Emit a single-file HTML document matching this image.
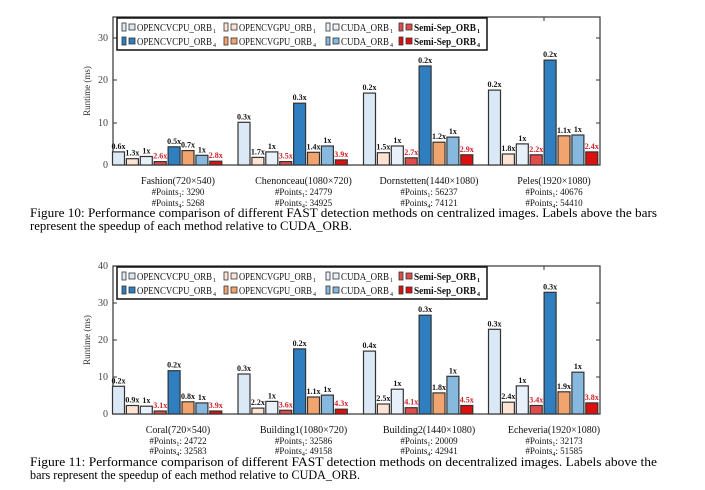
<!DOCTYPE html>
<html><head><meta charset="utf-8"><style>
body{margin:0;background:#fff}
svg{display:block;font-family:"Liberation Serif",serif}
.a{fill:#dbe8f5}.b{fill:#fde3d4}.c{fill:#e8f0f9}.d{fill:#e04c4c}.e{fill:#2e7ec0}.f{fill:#f2a46f}.g{fill:#87b8de}.h{fill:#dd1010}
rect.bar{stroke:#333;stroke-width:1.2}
.l{font-size:8px;font-weight:bold;text-anchor:middle;fill:#111}
.r{fill:#d0202a}
.t{font-size:10px;fill:#444;text-anchor:end}
.gl{font-size:10px;text-anchor:middle;fill:#111}
.gp{font-size:9px;text-anchor:middle;fill:#111}
.lg{font-size:10px;fill:#111}
.sb{font-size:6px;fill:#111}
.cap{font-size:13px;fill:#000}
</style></head><body>
<svg width="705" height="490" viewBox="0 0 705 490">
<defs>
<g id="leg">
<rect x="117" y="0" width="370" height="32" fill="#fff" stroke="#111" stroke-width="1.5"/>
<g stroke="#333" stroke-width="0.8">
<rect class="a" x="122" y="5" width="4" height="8"/><rect class="a" x="129" y="6" width="6" height="6"/>
<rect class="b" x="224" y="5" width="4" height="8"/><rect class="b" x="231" y="6" width="6" height="6"/>
<rect class="c" x="326" y="5" width="4" height="8"/><rect class="c" x="333" y="6" width="6" height="6"/>
<rect class="d" x="399" y="5" width="4" height="8"/><rect class="d" x="406" y="6" width="6" height="6"/>
<rect class="e" x="122" y="19" width="4" height="8"/><rect class="e" x="129" y="20" width="6" height="6"/>
<rect class="f" x="224" y="19" width="4" height="8"/><rect class="f" x="231" y="20" width="6" height="6"/>
<rect class="g" x="326" y="19" width="4" height="8"/><rect class="g" x="333" y="20" width="6" height="6"/>
<rect class="h" x="399" y="19" width="4" height="8"/><rect class="h" x="406" y="20" width="6" height="6"/>
</g>
</g>
</defs>
<!-- TOP CHART -->
<rect x="113" y="17" width="487" height="148" fill="none" stroke="#333" stroke-width="1.2"/>
<g stroke="#333" stroke-width="1">
<line x1="113" y1="123" x2="117" y2="123"/><line x1="113" y1="80" x2="117" y2="80"/><line x1="113" y1="38" x2="117" y2="38"/>
<line x1="600" y1="123" x2="596" y2="123"/><line x1="600" y1="80" x2="596" y2="80"/><line x1="600" y1="38" x2="596" y2="38"/>
<line x1="168" y1="17" x2="168" y2="21"/><line x1="293.5" y1="17" x2="293.5" y2="21"/><line x1="419" y1="17" x2="419" y2="21"/><line x1="544" y1="17" x2="544" y2="21"/>
<line x1="168" y1="165" x2="168" y2="161"/><line x1="293.5" y1="165" x2="293.5" y2="161"/><line x1="419" y1="165" x2="419" y2="161"/><line x1="544" y1="165" x2="544" y2="161"/>
</g>
<text class="t" x="108" y="168">0</text><text class="t" x="108" y="126">10</text><text class="t" x="108" y="83">20</text><text class="t" x="108" y="41">30</text>
<text transform="translate(90,91) rotate(-90)" font-size="9" text-anchor="middle" fill="#333">Runtime (ms)</text>

<g transform="translate(168,0)">
<rect class="bar a" x="-55.5" y="151.9" width="12" height="13.1"/><rect class="bar b" x="-41.6" y="158.7" width="12" height="6.3"/><rect class="bar c" x="-27.7" y="156.5" width="12" height="8.5"/><rect class="bar d" x="-13.8" y="161.6" width="12" height="3.4"/><rect class="bar e" x="0.1" y="146.8" width="12" height="18.2"/><rect class="bar f" x="14" y="150.6" width="12" height="14.4"/><rect class="bar g" x="27.9" y="155.3" width="12" height="9.7"/><rect class="bar h" x="41.8" y="161.2" width="12" height="3.8"/>
<text class="l" x="-49.5" y="148.9">0.6x</text><text class="l" x="-35.6" y="155.7">1.3x</text><text class="l" x="-21.7" y="153.5">1x</text><text class="l r" x="-7.8" y="158.6">2.6x</text><text class="l" x="6.1" y="143.8">0.5x</text><text class="l" x="20" y="147.6">0.7x</text><text class="l" x="33.9" y="152.3">1x</text><text class="l r" x="47.8" y="158.2">2.8x</text>
<text class="gl" x="10" y="184">Fashion(720×540)</text><text class="gp" x="10" y="195">#Points<tspan font-size="6" dy="2">1</tspan><tspan dy="-2">: 3290</tspan></text><text class="gp" x="10" y="206">#Points<tspan font-size="6" dy="2">4</tspan><tspan dy="-2">: 5268</tspan></text>
</g>
<g transform="translate(293.5,0)">
<rect class="bar a" x="-55.5" y="122.3" width="12" height="42.7"/><rect class="bar b" x="-41.6" y="157.4" width="12" height="7.6"/><rect class="bar c" x="-27.7" y="151.9" width="12" height="13.1"/><rect class="bar d" x="-13.8" y="161.6" width="12" height="3.4"/><rect class="bar e" x="0.1" y="103.2" width="12" height="61.8"/><rect class="bar f" x="14" y="152.3" width="12" height="12.7"/><rect class="bar g" x="27.9" y="146" width="12" height="19"/><rect class="bar h" x="41.8" y="159.9" width="12" height="5.1"/>
<text class="l" x="-49.5" y="119.3">0.3x</text><text class="l" x="-35.6" y="154.4">1.7x</text><text class="l" x="-21.7" y="148.9">1x</text><text class="l r" x="-7.8" y="158.6">3.5x</text><text class="l" x="6.1" y="100.2">0.3x</text><text class="l" x="20" y="149.3">1.4x</text><text class="l" x="33.9" y="143">1x</text><text class="l r" x="47.8" y="156.9">3.9x</text>
<text class="gl" x="10" y="184">Chenonceau(1080×720)</text><text class="gp" x="10" y="195">#Points<tspan font-size="6" dy="2">1</tspan><tspan dy="-2">: 24779</tspan></text><text class="gp" x="10" y="206">#Points<tspan font-size="6" dy="2">4</tspan><tspan dy="-2">: 34925</tspan></text>
</g>
<g transform="translate(419,0)">
<rect class="bar a" x="-55.5" y="93.1" width="12" height="71.9"/><rect class="bar b" x="-41.6" y="152.7" width="12" height="12.3"/><rect class="bar c" x="-27.7" y="146" width="12" height="19"/><rect class="bar d" x="-13.8" y="157.8" width="12" height="7.2"/><rect class="bar e" x="0.1" y="66" width="12" height="99"/><rect class="bar f" x="14" y="142.2" width="12" height="22.8"/><rect class="bar g" x="27.9" y="137.1" width="12" height="27.9"/><rect class="bar h" x="41.8" y="154.8" width="12" height="10.2"/>
<text class="l" x="-49.5" y="90.1">0.2x</text><text class="l" x="-35.6" y="149.7">1.5x</text><text class="l" x="-21.7" y="143">1x</text><text class="l r" x="-7.8" y="154.8">2.7x</text><text class="l" x="6.1" y="63">0.2x</text><text class="l" x="20" y="139.2">1.2x</text><text class="l" x="33.9" y="134.1">1x</text><text class="l r" x="47.8" y="151.8">2.9x</text>
<text class="gl" x="10" y="184">Dornstetten(1440×1080)</text><text class="gp" x="10" y="195">#Points<tspan font-size="6" dy="2">1</tspan><tspan dy="-2">: 56237</tspan></text><text class="gp" x="10" y="206">#Points<tspan font-size="6" dy="2">4</tspan><tspan dy="-2">: 74121</tspan></text>
</g>
<g transform="translate(544,0)">
<rect class="bar a" x="-55.5" y="90.1" width="12" height="74.9"/><rect class="bar b" x="-41.6" y="154" width="12" height="11"/><rect class="bar c" x="-27.7" y="143.9" width="12" height="21.1"/><rect class="bar d" x="-13.8" y="154.8" width="12" height="10.2"/><rect class="bar e" x="0.1" y="60.1" width="12" height="104.9"/><rect class="bar f" x="14" y="135.8" width="12" height="29.2"/><rect class="bar g" x="27.9" y="135" width="12" height="30"/><rect class="bar h" x="41.8" y="151.9" width="12" height="13.1"/>
<text class="l" x="-49.5" y="87.1">0.2x</text><text class="l" x="-35.6" y="151">1.8x</text><text class="l" x="-21.7" y="140.9">1x</text><text class="l r" x="-7.8" y="151.8">2.2x</text><text class="l" x="6.1" y="57.1">0.2x</text><text class="l" x="20" y="132.8">1.1x</text><text class="l" x="33.9" y="132">1x</text><text class="l r" x="47.8" y="148.9">2.4x</text>
<text class="gl" x="10" y="184">Peles(1920×1080)</text><text class="gp" x="10" y="195">#Points<tspan font-size="6" dy="2">1</tspan><tspan dy="-2">: 40676</tspan></text><text class="gp" x="10" y="206">#Points<tspan font-size="6" dy="2">4</tspan><tspan dy="-2">: 54410</tspan></text>
</g>

<!-- legend top -->
<g transform="translate(0,18)">
<use href="#leg"/>
<text class="lg" x="137" y="13" textLength="75" lengthAdjust="spacingAndGlyphs">OPENCVCPU_ORB</text><text class="sb" x="213" y="15">1</text>
<text class="lg" x="239" y="13" textLength="73" lengthAdjust="spacingAndGlyphs">OPENCVGPU_ORB</text><text class="sb" x="313" y="15">1</text>
<text class="lg" x="341" y="13" textLength="48" lengthAdjust="spacingAndGlyphs">CUDA_ORB</text><text class="sb" x="390" y="15">1</text>
<text class="lg" x="414" y="13" font-weight="bold" textLength="62" lengthAdjust="spacingAndGlyphs">Semi-Sep_ORB</text><text class="sb" x="477" y="15" font-weight="bold">1</text>
<text class="lg" x="137" y="27" textLength="75" lengthAdjust="spacingAndGlyphs">OPENCVCPU_ORB</text><text class="sb" x="213" y="29">4</text>
<text class="lg" x="239" y="27" textLength="73" lengthAdjust="spacingAndGlyphs">OPENCVGPU_ORB</text><text class="sb" x="313" y="29">4</text>
<text class="lg" x="341" y="27" textLength="48" lengthAdjust="spacingAndGlyphs">CUDA_ORB</text><text class="sb" x="390" y="29">4</text>
<text class="lg" x="414" y="27" font-weight="bold" textLength="62" lengthAdjust="spacingAndGlyphs">Semi-Sep_ORB</text><text class="sb" x="477" y="29" font-weight="bold">4</text>
</g>

<text class="cap" x="30" y="217" textLength="627" lengthAdjust="spacingAndGlyphs">Figure 10: Performance comparison of different FAST detection methods on centralized images. Labels above the bars</text>
<text class="cap" x="30" y="230" textLength="322" lengthAdjust="spacingAndGlyphs">represent the speedup of each method relative to CUDA_ORB.</text>

<!-- BOTTOM CHART -->
<rect x="113" y="266" width="487" height="148" fill="none" stroke="#333" stroke-width="1.2"/>
<g stroke="#333" stroke-width="1">
<line x1="113" y1="377" x2="117" y2="377"/><line x1="113" y1="340" x2="117" y2="340"/><line x1="113" y1="303" x2="117" y2="303"/>
<line x1="600" y1="377" x2="596" y2="377"/><line x1="600" y1="340" x2="596" y2="340"/><line x1="600" y1="303" x2="596" y2="303"/>
<line x1="168" y1="266" x2="168" y2="270"/><line x1="293.5" y1="266" x2="293.5" y2="270"/><line x1="419" y1="266" x2="419" y2="270"/><line x1="544" y1="266" x2="544" y2="270"/>
<line x1="168" y1="414" x2="168" y2="410"/><line x1="293.5" y1="414" x2="293.5" y2="410"/><line x1="419" y1="414" x2="419" y2="410"/><line x1="544" y1="414" x2="544" y2="410"/>
</g>
<text class="t" x="108" y="417">0</text><text class="t" x="108" y="380">10</text><text class="t" x="108" y="343">20</text><text class="t" x="108" y="306">30</text><text class="t" x="108" y="269">40</text>
<text transform="translate(90,340) rotate(-90)" font-size="9" text-anchor="middle" fill="#333">Runtime (ms)</text>

<g transform="translate(168,0)">
<rect class="bar a" x="-55.5" y="386.3" width="12" height="27.7"/><rect class="bar b" x="-41.6" y="405.5" width="12" height="8.5"/><rect class="bar c" x="-27.7" y="406.2" width="12" height="7.8"/><rect class="bar d" x="-13.8" y="411" width="12" height="3"/><rect class="bar e" x="0.1" y="370.7" width="12" height="43.3"/><rect class="bar f" x="14" y="401.8" width="12" height="12.2"/><rect class="bar g" x="27.9" y="402.9" width="12" height="11.1"/><rect class="bar h" x="41.8" y="411" width="12" height="3"/>
<text class="l" x="-49.5" y="383.3">0.2x</text><text class="l" x="-35.6" y="402.5">0.9x</text><text class="l" x="-21.7" y="403.2">1x</text><text class="l r" x="-7.8" y="408">3.1x</text><text class="l" x="6.1" y="367.7">0.2x</text><text class="l" x="20" y="398.8">0.8x</text><text class="l" x="33.9" y="399.9">1x</text><text class="l r" x="47.8" y="408">3.9x</text>
<text class="gl" x="10" y="433">Coral(720×540)</text><text class="gp" x="10" y="444">#Points<tspan font-size="6" dy="2">1</tspan><tspan dy="-2">: 24722</tspan></text><text class="gp" x="10" y="454">#Points<tspan font-size="6" dy="2">4</tspan><tspan dy="-2">: 32583</tspan></text>
</g>
<g transform="translate(293.5,0)">
<rect class="bar a" x="-55.5" y="374" width="12" height="40"/><rect class="bar b" x="-41.6" y="408.1" width="12" height="5.9"/><rect class="bar c" x="-27.7" y="401.4" width="12" height="12.6"/><rect class="bar d" x="-13.8" y="410.3" width="12" height="3.7"/><rect class="bar e" x="0.1" y="348.9" width="12" height="65.1"/><rect class="bar f" x="14" y="397" width="12" height="17"/><rect class="bar g" x="27.9" y="395.1" width="12" height="18.9"/><rect class="bar h" x="41.8" y="409.2" width="12" height="4.8"/>
<text class="l" x="-49.5" y="371">0.3x</text><text class="l" x="-35.6" y="405.1">2.2x</text><text class="l" x="-21.7" y="398.4">1x</text><text class="l r" x="-7.8" y="407.3">3.6x</text><text class="l" x="6.1" y="345.9">0.2x</text><text class="l" x="20" y="394">1.1x</text><text class="l" x="33.9" y="392.1">1x</text><text class="l r" x="47.8" y="406.2">4.3x</text>
<text class="gl" x="10" y="433">Building1(1080×720)</text><text class="gp" x="10" y="444">#Points<tspan font-size="6" dy="2">1</tspan><tspan dy="-2">: 32586</tspan></text><text class="gp" x="10" y="454">#Points<tspan font-size="6" dy="2">4</tspan><tspan dy="-2">: 49158</tspan></text>
</g>
<g transform="translate(419,0)">
<rect class="bar a" x="-55.5" y="351.1" width="12" height="62.9"/><rect class="bar b" x="-41.6" y="404" width="12" height="10"/><rect class="bar c" x="-27.7" y="389.2" width="12" height="24.8"/><rect class="bar d" x="-13.8" y="407.7" width="12" height="6.3"/><rect class="bar e" x="0.1" y="315.2" width="12" height="98.8"/><rect class="bar f" x="14" y="392.9" width="12" height="21.1"/><rect class="bar g" x="27.9" y="376.3" width="12" height="37.7"/><rect class="bar h" x="41.8" y="405.5" width="12" height="8.5"/>
<text class="l" x="-49.5" y="348.1">0.4x</text><text class="l" x="-35.6" y="401">2.5x</text><text class="l" x="-21.7" y="386.2">1x</text><text class="l r" x="-7.8" y="404.7">4.1x</text><text class="l" x="6.1" y="312.2">0.3x</text><text class="l" x="20" y="389.9">1.8x</text><text class="l" x="33.9" y="373.3">1x</text><text class="l r" x="47.8" y="402.5">4.5x</text>
<text class="gl" x="10" y="433">Building2(1440×1080)</text><text class="gp" x="10" y="444">#Points<tspan font-size="6" dy="2">1</tspan><tspan dy="-2">: 20009</tspan></text><text class="gp" x="10" y="454">#Points<tspan font-size="6" dy="2">4</tspan><tspan dy="-2">: 42941</tspan></text>
</g>
<g transform="translate(544,0)">
<rect class="bar a" x="-55.5" y="329.3" width="12" height="84.7"/><rect class="bar b" x="-41.6" y="402.2" width="12" height="11.8"/><rect class="bar c" x="-27.7" y="385.9" width="12" height="28.1"/><rect class="bar d" x="-13.8" y="405.5" width="12" height="8.5"/><rect class="bar e" x="0.1" y="292.3" width="12" height="121.7"/><rect class="bar f" x="14" y="391.8" width="12" height="22.2"/><rect class="bar g" x="27.9" y="372.2" width="12" height="41.8"/><rect class="bar h" x="41.8" y="402.9" width="12" height="11.1"/>
<text class="l" x="-49.5" y="326.3">0.3x</text><text class="l" x="-35.6" y="399.2">2.4x</text><text class="l" x="-21.7" y="382.9">1x</text><text class="l r" x="-7.8" y="402.5">3.4x</text><text class="l" x="6.1" y="289.3">0.3x</text><text class="l" x="20" y="388.8">1.9x</text><text class="l" x="33.9" y="369.2">1x</text><text class="l r" x="47.8" y="399.9">3.8x</text>
<text class="gl" x="10" y="433">Echeveria(1920×1080)</text><text class="gp" x="10" y="444">#Points<tspan font-size="6" dy="2">1</tspan><tspan dy="-2">: 32173</tspan></text><text class="gp" x="10" y="454">#Points<tspan font-size="6" dy="2">4</tspan><tspan dy="-2">: 51585</tspan></text>
</g>

<!-- legend bottom -->
<g transform="translate(0,267)">
<use href="#leg"/>
<text class="lg" x="137" y="13" textLength="75" lengthAdjust="spacingAndGlyphs">OPENCVCPU_ORB</text><text class="sb" x="213" y="15">1</text>
<text class="lg" x="239" y="13" textLength="73" lengthAdjust="spacingAndGlyphs">OPENCVGPU_ORB</text><text class="sb" x="313" y="15">1</text>
<text class="lg" x="341" y="13" textLength="48" lengthAdjust="spacingAndGlyphs">CUDA_ORB</text><text class="sb" x="390" y="15">1</text>
<text class="lg" x="414" y="13" font-weight="bold" textLength="62" lengthAdjust="spacingAndGlyphs">Semi-Sep_ORB</text><text class="sb" x="477" y="15" font-weight="bold">1</text>
<text class="lg" x="137" y="27" textLength="75" lengthAdjust="spacingAndGlyphs">OPENCVCPU_ORB</text><text class="sb" x="213" y="29">4</text>
<text class="lg" x="239" y="27" textLength="73" lengthAdjust="spacingAndGlyphs">OPENCVGPU_ORB</text><text class="sb" x="313" y="29">4</text>
<text class="lg" x="341" y="27" textLength="48" lengthAdjust="spacingAndGlyphs">CUDA_ORB</text><text class="sb" x="390" y="29">4</text>
<text class="lg" x="414" y="27" font-weight="bold" textLength="62" lengthAdjust="spacingAndGlyphs">Semi-Sep_ORB</text><text class="sb" x="477" y="29" font-weight="bold">4</text>
</g>

<text class="cap" x="30" y="466" textLength="627" lengthAdjust="spacingAndGlyphs">Figure 11: Performance comparison of different FAST detection methods on decentralized images. Labels above the</text>
<text class="cap" x="30" y="479" textLength="330" lengthAdjust="spacingAndGlyphs">bars represent the speedup of each method relative to CUDA_ORB.</text>
</svg>
</body></html>
